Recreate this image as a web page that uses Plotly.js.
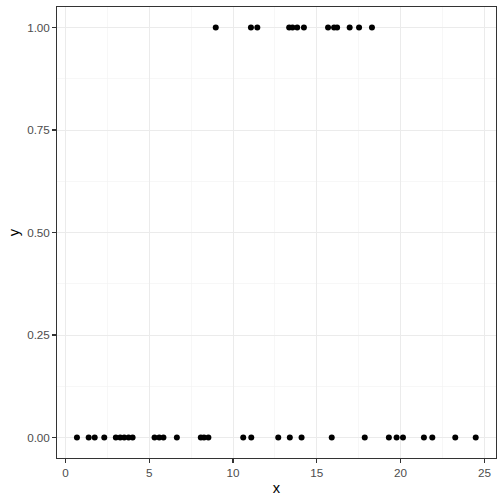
<!DOCTYPE html>
<html>
<head>
<meta charset="utf-8">
<script src="https://cdn.plot.ly/plotly-3.0.1.min.js"></script>
<style>html,body{margin:0;padding:0;background:#fff;}#chart{width:504px;height:504px;}</style>
</head>
<body>
<div id="chart"></div>
<script>
// y = 0 points
const x0 = [0.69, 1.39, 1.75, 2.32, 3.01, 3.27, 3.51, 3.77, 4.01, 5.32, 5.60, 5.85, 6.65, 8.08, 8.27, 8.53, 10.61, 11.09, 12.70, 13.39, 14.09, 15.89, 17.86, 19.30, 19.76, 20.14, 21.39, 21.89, 23.26, 24.48];
// y = 1 points
const x1 = [8.97, 11.07, 11.45, 13.35, 13.55, 13.83, 14.23, 15.67, 16.03, 16.21, 16.96, 17.52, 18.29];

const xs = x0.concat(x1);
const ys = x0.map(() => 0).concat(x1.map(() => 1));

const xTicks = [0, 5, 10, 15, 20, 25];
const yTicks = [0, 0.25, 0.5, 0.75, 1];
const yTickLabels = ["0.00", "0.25", "0.50", "0.75", "1.00"];

const trace = {
  x: xs, y: ys, type: 'scatter', mode: 'markers',
  marker: {color: '#000000', size: 6},
  hoverinfo: 'none'
};

const axisCommon = {
  showline: true, mirror: true, linecolor: '#333333', linewidth: 1.07,
  ticks: 'outside', ticklen: 3.7, tickwidth: 1.07, tickcolor: '#333333',
  showgrid: true, gridcolor: '#EBEBEB', gridwidth: 1,
  zeroline: false,
  tickfont: {family: 'Liberation Sans, Arial, sans-serif', size: 11.7, color: '#4D4D4D'},
  title: {font: {family: 'Liberation Sans, Arial, sans-serif', size: 14.7, color: '#000000'}}
};

const layout = {
  width: 504, height: 504,
  margin: {l: 57.3, r: 7.7, t: 7.3, b: 45.7},
  paper_bgcolor: '#ffffff', plot_bgcolor: '#ffffff',
  showlegend: false,
  xaxis: Object.assign({}, axisCommon, {
    range: [-0.5, 25.69],
    tickmode: 'array', tickvals: xTicks, ticktext: xTicks.map(String),
    minor: {tickmode: 'array', tickvals: [2.5, 7.5, 12.5, 17.5, 22.5], showgrid: true, gridcolor: '#F2F2F2', gridwidth: 0.6, ticks: ''},
    title: Object.assign({}, axisCommon.title, {text: 'x', standoff: 4})
  }),
  yaxis: Object.assign({}, axisCommon, {
    range: [-0.05, 1.05],
    tickmode: 'array', tickvals: yTicks, ticktext: yTickLabels,
    minor: {tickmode: 'array', tickvals: [0.125, 0.375, 0.625, 0.875], showgrid: true, gridcolor: '#F2F2F2', gridwidth: 0.6, ticks: ''},
    title: Object.assign({}, axisCommon.title, {text: 'y', standoff: 4})
  })
};

Plotly.newPlot('chart', [trace], layout, {staticPlot: true, displayModeBar: false});
</script>
</body>
</html>
